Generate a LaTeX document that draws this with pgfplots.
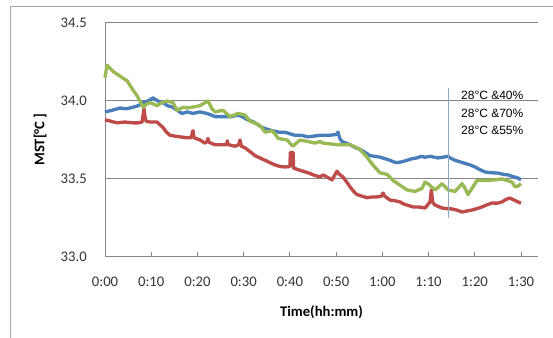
\documentclass[border=0pt]{standalone}
\usepackage{fontspec}
\setmainfont{Carlito}
\newfontfamily\legendfont{Liberation Sans}
\usepackage{pgfplots}
\pgfplotsset{compat=1.18}
\definecolor{sblue}{HTML}{4A7EBB}
\definecolor{sred}{HTML}{BE4B48}
\definecolor{sgreen}{HTML}{98B954}
\definecolor{axgray}{HTML}{868686}
\definecolor{frgray}{HTML}{A6A6A6}
\definecolor{curs}{HTML}{8EA9C8}
\begin{document}
\begin{tikzpicture}
\useasboundingbox (0,0) rectangle (414.75pt,253.5pt);
\draw[frgray, line width=0.75pt] (7.5pt,-2pt) -- (7.5pt,248.25pt) -- (416pt,248.25pt);
\begin{axis}[
  at={(78.75pt,60.75pt)}, anchor=south west,
  scale only axis, width=324.75pt, height=175.5pt,
  xmin=0, xmax=93.68, ymin=33, ymax=34.5,
  axis x line=bottom, axis y line=left,
  axis line style={-, draw=axgray, line width=0.75pt},
  ytick={33,33.5,34,34.5},
  yticklabels={33.0,33.5,34.0,34.5},
  xtick={0,10,20,30,40,50,60,70,80,90},
  xticklabels={0:00,0:10,0:20,0:30,0:40,0:50,1:00,1:10,1:20,1:30},
  ymajorgrids, grid style={axgray, line width=0.75pt},
  tick align=inside, major tick length=3.75pt,
  xtick style={draw=axgray, line width=0.75pt},
  ytick style={draw=none},
  tick label style={font=\fontsize{11}{13}\selectfont, text=black!80},
  yticklabel style={anchor=east, inner sep=0pt, xshift=-13.5pt},
  xticklabel style={anchor=center, inner sep=0pt, yshift=-18.75pt},
  xlabel={Time(hh:mm)}, ylabel={MST[°C\,]},
  label style={font=\bfseries\fontsize{11}{13}\selectfont},
  xlabel style={at={(axis description cs:0.5,-0.235)}, anchor=center},
  ylabel style={at={(axis description cs:-0.150,0.5)}, anchor=center, rotate=0},
  clip=false,
  legend image code/.code={},
  legend style={at={(axis cs:77.0,34.064)}, anchor=north west, draw=none, fill=none,
    font=\legendfont\fontsize{9}{13}\selectfont, inner sep=0pt, row sep=6.5pt,
    nodes={inner sep=0pt, text height=6.5pt, text depth=0pt}},
  legend cell align=left,
]
% 28C & 40% (blue)
\addplot[sblue, line width=2.5pt, line join=round] coordinates {
(0,33.93)(1.5,33.94)(3.25,33.955)(4.6,33.95)(6.06,33.96)(7.2,33.97)(8.22,33.99)(9.3,34.0)(10.39,34.02)(11.4,34.0)(12.55,33.99)(13.5,33.97)(14.71,33.96)(15.6,33.94)(16.66,33.92)(17.8,33.93)(19.04,33.92)(20.5,33.93)(22.07,33.92)(23.0,33.91)(23.8,33.90)(25.5,33.90)(27.48,33.90)(28.6,33.91)(29.64,33.90)(30.8,33.88)(31.8,33.87)(33.0,33.85)(33.97,33.83)(35.0,33.82)(36.13,33.81)(37.6,33.80)(38.94,33.80)(40.0,33.79)(41.11,33.78)(42.5,33.78)(43.92,33.77)(45.2,33.775)(46.52,33.78)(48.5,33.78)(50.0,33.785)(50.41,33.80)(50.8,33.76)(51.28,33.74)(53.01,33.72)(54.2,33.70)(55.17,33.69)(56.3,33.67)(57.33,33.65)(58.4,33.645)(59.5,33.64)(60.6,33.63)(61.66,33.62)(62.4,33.61)(63.18,33.605)(64.2,33.61)(65.34,33.62)(66.4,33.63)(67.5,33.635)(68.4,33.645)(69.23,33.64)(70.4,33.645)(72.05,33.635)(73.2,33.64)(74.21,33.645)(75.0,33.63)(75.72,33.62)(76.8,33.61)(77.89,33.60)(79.0,33.59)(80.05,33.577)(81.1,33.56)(82.21,33.545)(83.6,33.54)(85.03,33.538)(86.1,33.53)(87.19,33.526)(88.3,33.515)(89.35,33.506)(90,33.495)
};
\addlegendentry{28°C \&40\%}
% 28C & 70% (red)
\addplot[sred, line width=2.5pt, line join=round] coordinates {
(0,33.88)(1.3,33.87)(2.6,33.86)(4.3,33.865)(6.06,33.86)(7.2,33.86)(8.01,33.865)(8.2,33.90)(8.44,33.95)(8.65,33.90)(8.9,33.87)(9.74,33.865)(11.25,33.865)(12.55,33.83)(13.3,33.80)(14.06,33.78)(15.1,33.775)(16.23,33.77)(17.5,33.765)(18.7,33.765)(18.9,33.80)(19.04,33.81)(19.25,33.765)(20.55,33.75)(21.64,33.73)(22.1,33.74)(22.28,33.76)(22.5,33.735)(23.8,33.72)(25.1,33.72)(26.3,33.72)(26.45,33.745)(26.65,33.72)(28.13,33.71)(28.9,33.72)(29.21,33.75)(29.5,33.71)(30.29,33.70)(31.4,33.675)(32.45,33.65)(33.5,33.635)(34.62,33.62)(35.7,33.605)(36.78,33.59)(37.9,33.58)(38.94,33.577)(40.0,33.58)(40.1,33.67)(40.7,33.67)(40.8,33.57)(41.76,33.56)(42.8,33.55)(43.92,33.54)(45.2,33.525)(46.52,33.513)(47.17,33.526)(48.2,33.51)(49.11,33.494)(49.8,33.53)(50.2,33.55)(50.7,33.53)(51.49,33.513)(52.3,33.48)(53.01,33.45)(53.8,33.42)(54.52,33.40)(55.6,33.39)(56.69,33.38)(57.8,33.385)(58.85,33.385)(59.8,33.39)(60.15,33.41)(60.5,33.39)(61.66,33.365)(62.8,33.36)(63.83,33.353)(64.6,33.34)(65.34,33.333)(66.64,33.321)(68.0,33.32)(69.23,33.314)(70.32,33.353)(70.6,33.43)(70.9,33.35)(71.4,33.333)(72.91,33.314)(74.0,33.31)(75.08,33.308)(76.2,33.30)(77.24,33.288)(78.3,33.295)(79.4,33.301)(80.5,33.31)(81.57,33.321)(82.7,33.335)(83.73,33.346)(84.8,33.345)(85.89,33.353)(86.8,33.37)(87.62,33.378)(88.5,33.365)(89.35,33.353)(90,33.345)
};
\addlegendentry{28°C \&70\%}
% 28C & 55% (green)
\addplot[sgreen, line width=2.5pt, line join=round] coordinates {
(0,34.15)(0.43,34.23)(1.73,34.19)(3.2,34.16)(4.76,34.13)(6.06,34.07)(6.8,34.04)(7.57,34.0)(8.22,33.96)(9.0,33.98)(9.74,33.99)(10.5,33.98)(11.25,33.97)(12.3,33.99)(13.41,34.0)(14.71,33.99)(15.57,33.94)(16.88,33.96)(17.8,33.955)(18.82,33.96)(19.7,33.965)(20.55,33.97)(21.4,33.985)(22.3,34.0)(23.15,33.95)(23.8,33.93)(24.6,33.935)(25.53,33.94)(26.3,33.92)(27.04,33.90)(27.9,33.91)(28.78,33.92)(29.6,33.915)(30.29,33.91)(31.37,33.87)(32.2,33.86)(33.10,33.85)(33.9,33.83)(34.62,33.80)(35.4,33.805)(36.13,33.81)(36.8,33.79)(37.45,33.76)(38.4,33.755)(39.38,33.75)(40.0,33.73)(40.67,33.71)(41.4,33.73)(42.19,33.75)(43.0,33.745)(43.92,33.74)(44.7,33.735)(45.44,33.73)(46.52,33.74)(47.17,33.73)(48.7,33.725)(50.2,33.72)(51.6,33.72)(53.01,33.72)(54.1,33.705)(55.17,33.69)(55.9,33.665)(56.69,33.64)(57.3,33.615)(57.98,33.59)(58.7,33.565)(59.5,33.54)(60.2,33.535)(61.01,33.53)(61.7,33.51)(62.31,33.49)(63.1,33.475)(63.83,33.46)(64.6,33.445)(65.34,33.43)(66.2,33.425)(67.07,33.42)(67.8,33.43)(68.59,33.44)(69.23,33.48)(69.88,33.47)(70.6,33.45)(71.4,33.43)(72.2,33.45)(72.91,33.47)(73.6,33.45)(74.21,33.43)(75.0,33.425)(75.72,33.42)(76.5,33.445)(77.24,33.47)(77.9,33.44)(78.54,33.40)(79.5,33.445)(80.48,33.49)(81.7,33.49)(82.87,33.49)(84.4,33.495)(85.89,33.50)(87.0,33.49)(88.06,33.48)(88.71,33.45)(89.4,33.455)(90,33.47)
};
\addlegendentry{28°C \&55\%}
\addplot[curs, line width=0.9pt, forget plot] coordinates {(74.4,34.083)(74.4,33.25)};
\end{axis}
\end{tikzpicture}
\end{document}
